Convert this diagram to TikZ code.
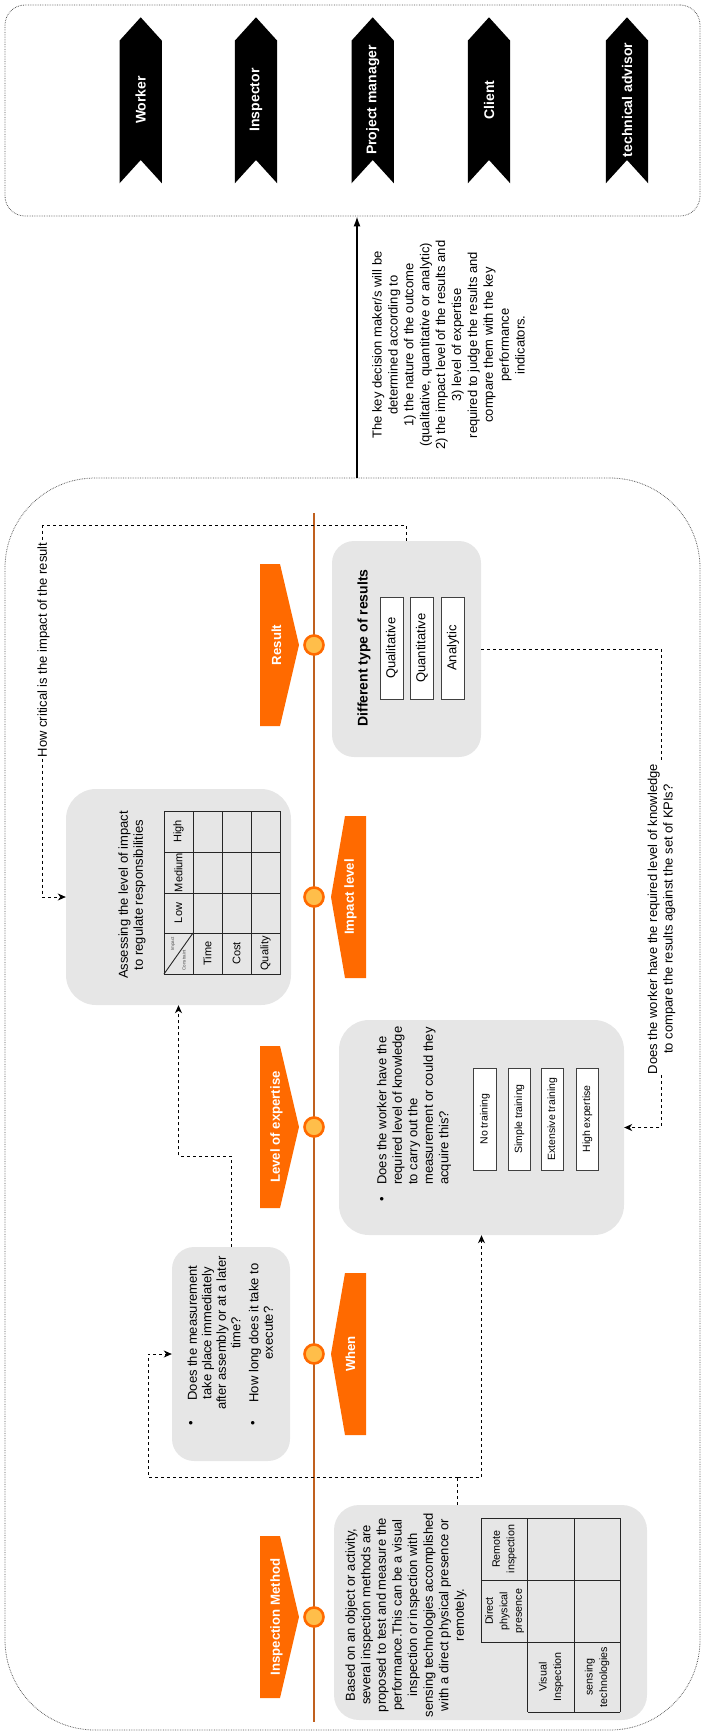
\documentclass[tikz,border=0pt]{standalone}
\usepackage{fontspec}
\setmainfont{Liberation Sans}
\usetikzlibrary{arrows.meta,calc}
\definecolor{orng}{HTML}{FF6A00}
\definecolor{circfill}{HTML}{FFBE4A}
\definecolor{tlc}{HTML}{C0601E}
\definecolor{grayb}{HTML}{E6E6E6}
\definecolor{dotc}{HTML}{555555}
\newcommand\fsz[2]{\fontsize{#1}{#2}\selectfont}
\tikzset{
  container/.style={draw=dotc, dash pattern=on 0.7pt off 1pt, line width=0.8pt, rounded corners=#1, inner sep=0},
  graybox/.style={fill=grayb, draw=none, rounded corners=#1, inner sep=0},
  wbox/.style={draw=black!75, fill=white, line width=0.9pt, minimum width=102, minimum height=22.5, inner sep=0, rotate=90},
  conn/.style={dash pattern=on 3pt off 3pt, line width=0.8pt, -{Stealth[length=8pt,width=7pt,inset=2.5pt]}},
  connp/.style={dash pattern=on 3pt off 3pt, line width=0.8pt},
  rt/.style={rotate=90, inner sep=0, align=center},
  tdot/.style={circle, fill=circfill, draw=orng, line width=2.6pt, minimum size=19, inner sep=0},
  otext/.style={rt, text=white, font=\bfseries\fsz{13.2}{15}},
  btext/.style={rt, text=white, font=\bfseries\fsz{14}{16}},
  grid/.style={line width=0.9pt, draw=black!85}
}
\begin{document}
\begin{tikzpicture}[x=1pt,y=-1pt]
\useasboundingbox (0,0) rectangle (702,1735);

% containers
\node[container=20, minimum width=695, minimum height=211] (topc) at (352.5,110.5) {};
\node[container=90, minimum width=695, minimum height=1252] (botc) at (352.5,1104) {};

% banners
\foreach \cx/\nm/\lab in {140.7/wk/Worker, 256/ins/Inspector, 372.7/pm/Project manager, 489/cl/Client, 627/ta/technical advisor}{
  \fill[black] (\cx-21.2,40.7) -- (\cx,17.3) -- (\cx+21.2,40.7) -- (\cx+21.2,183.3) -- (\cx,160) -- (\cx-21.2,183.3) -- cycle;
  \node[btext] (\nm) at (\cx,100) {\lab};
}

% main arrow
\coordinate (ax) at (357,0);
\draw[line width=1.5pt, -{Latex[length=10pt,width=7pt]}] (botc.north -| ax) -- (topc.south -| ax);
\node[rt, font=\fsz{13}{15.9}] (dec) at (448.5,345) {The key decision maker/s will be\\determined according to\\1) the nature of the outcome\\(qualitative, quantitative or analytic)\\2) the impact level of the results and\\3) level of expertise\\required to judge the results and\\compare them with the key\\performance\\indicators.};

% timeline
\draw[tlc, line width=2pt] (314,513) -- (314,1722);

% orange shapes
\foreach \c/\nm/\lab in {645/oRes/Result, 1127/oLoe/Level of expertise, 1617/oIm/Inspection Method}{
  \fill[orng] (260,\c-81) -- (280,\c-81) -- (299,\c) -- (280,\c+81) -- (260,\c+81) -- cycle;
  \node[otext] (\nm) at (276.5,\c) {\lab};
}
\foreach \c/\nm/\lab in {897/oImp/Impact level, 1354/oWhen/When}{
  \fill[orng] (366,\c-81) -- (345,\c-81) -- (331,\c) -- (345,\c+81) -- (366,\c+81) -- cycle;
  \node[otext] (\nm) at (350.5,\c) {\lab};
}
\foreach \c/\nm in {645/d1, 897/d2, 1127/d3, 1354/d4, 1617/d5}{
  \node[tdot] (\nm) at (314,\c) {};
}

% gray boxes
\node[graybox=22, minimum width=149, minimum height=216] (res) at (406.5,649) {};
\node[graybox=30, minimum width=225, minimum height=216] (assess) at (178.5,897) {};
\node[graybox=30, minimum width=285, minimum height=215] (know) at (481.5,1127.5) {};
\node[graybox=22, minimum width=118, minimum height=214] (when) at (231,1354) {};
\node[graybox=25, minimum width=313, minimum height=215] (insp) at (490.5,1612.5) {};

% result box content
\node[rt, font=\bfseries\fsz{14}{16}] (resh) at (364,648) {Different type of results};
\node[wbox, font=\fsz{13}{15}] (q1) at (392,648) {Qualitative};
\node[wbox, font=\fsz{13}{15}] (q2) at (422,648) {Quantitative};
\node[wbox, font=\fsz{13}{15}] (q3) at (453,648) {Analytic};

% assess box content
\node[rt, font=\fsz{13}{15}] (assh) at (132,895) {Assessing the level of impact\\to regulate responsibilities};
\draw[grid] (164,811) rectangle (280,974);
\foreach \x in {193,222,251}{\draw[grid] (\x,811) -- (\x,974);}
\foreach \y in {852,893,933}{\draw[grid] (164,\y) -- (280,\y);}
\draw[grid] (164,974) -- (193,933);
\node[rt, font=\fsz{11}{13}] (tHigh) at (178.5,831.5) {High};
\node[rt, font=\fsz{11}{13}] (tMed) at (178.5,872.5) {Medium};
\node[rt, font=\fsz{11}{13}] (tLow) at (178.5,913) {Low};
\node[rt, font=\fsz{11}{13}] (tTime) at (207.5,953.5) {Time};
\node[rt, font=\fsz{11}{13}] (tCost) at (236.5,953.5) {Cost};
\node[rt, font=\fsz{11}{13}] (tQual) at (265.5,953.5) {Quality};
\node[rt, font=\fsz{4.5}{5}, text=black!70] (tImp) at (173,944) {Impact};
\node[rt, font=\fsz{4.5}{5}, text=black!70] (tCon) at (184,960) {Constraint};

% knowledge box content
\node[rt, font=\fsz{13}{15.5}] (kb) at (383,1199) {\textbullet};
\node[rotate=90, inner sep=0, align=left, anchor=west, font=\fsz{13}{15.5}] (kt) at (414,1185) {Does the worker have the\\required level of knowledge\\to carry out the\\measurement or could they\\acquire this?};
\node[wbox, font=\fsz{10.5}{12}] (k1) at (485,1119) {No training};
\node[wbox, font=\fsz{10.5}{12}] (k2) at (519.5,1119) {Simple training};
\node[wbox, font=\fsz{10.5}{12}] (k3) at (552.5,1119) {Extensive training};
\node[wbox, font=\fsz{10.5}{12}] (k4) at (587.5,1119) {High expertise};

% when box content
\node[rt, font=\fsz{13}{14.5}] (wb1) at (192,1423) {\textbullet};
\node[rt, font=\fsz{13}{14.5}] (wb2) at (254,1423) {\textbullet};
\node[rt, font=\fsz{13}{14.5}] (wt1) at (214,1333) {Does the measurement\\take place immediately\\after assembly or at a later\\time?};
\node[rt, font=\fsz{13}{14.5}] (wt2) at (261,1333) {How long does it take to\\execute?};

% inspection box content
\node[rt, font=\fsz{13}{15.6}] (it) at (406,1615) {Based on an object or activity,\\several inspection methods are\\proposed to test and measure the\\performance.This can be a visual\\inspection or inspection with\\sensing technologies accomplished\\with a direct physical presence or\\remotely.};
\draw[grid] (481.4,1518) -- (481.4,1642);
\foreach \x in {527.5,574,620}{\draw[grid] (\x,1518) -- (\x,1712);}
\foreach \y in {1518,1580,1642}{\draw[grid] (481.4,\y) -- (620,\y);}
\draw[grid] (527.5,1712) -- (620,1712);
\node[rt, font=\fsz{10.7}{14.5}] (iR) at (504.5,1549) {Remote\\inspection};
\node[rt, font=\fsz{10.7}{14.5}] (iD) at (504.5,1611) {Direct\\physical\\presence};
\node[rt, font=\fsz{10.7}{14.5}] (iV) at (551,1677) {Visual\\Inspection};
\node[rt, font=\fsz{10.7}{14.5}] (iS) at (597,1677) {sensing\\technologies};

% connectors
\coordinate (cA) at (42.5,525.7);
\draw[conn] (res.north) |- (cA) |- (assess.west);
\coordinate (cB) at (661,649);
\draw[conn] (res.east) -- (cB) |- (know.east);
\coordinate (cC) at (178.5,1156);
\draw[conn] (when.north) |- (cC) -- (assess.south);
\coordinate (J) at (457.7,1477);
\coordinate (cDL) at (148,1477);
\draw[connp] ([xshift=-32.8pt]insp.north) -- (J);
\draw[conn] (J) -- (cDL) |- (when.west);
\draw[conn] (J) -| (know.south);

% connector labels
\node[rt, fill=white, inner sep=1pt, font=\fsz{13}{15}] (lA) at (43.5,650) {How critical is the impact of the result};
\node[rt, fill=white, inner sep=1pt, font=\fsz{13}{15.6}] (lB) at (661.5,919) {Does the worker have the required level of knowledge\\to compare the results against the set of KPIs?};
\end{tikzpicture}
\end{document}
